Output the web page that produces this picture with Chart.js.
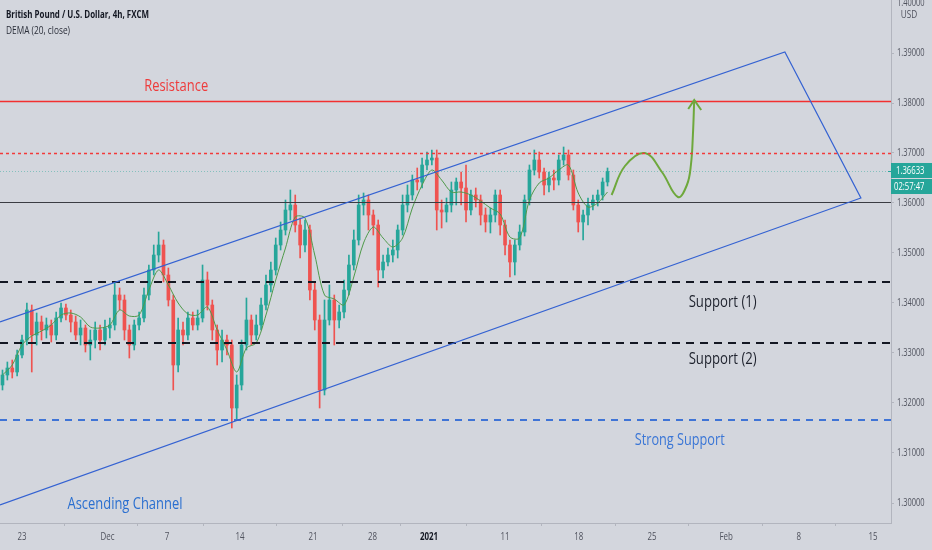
<!DOCTYPE html>
<html>
<head>
<meta charset="utf-8">
<script src="https://cdn.jsdelivr.net/npm/chart.js@4.4.1/dist/chart.umd.min.js"></script>
<style>
  html, body { margin: 0; padding: 0; background: #d3d6dd; }
  canvas { display: block; }
</style>
</head>
<body>
<canvas id="chart" width="932" height="550"></canvas>
<script>
/* GBPUSD candles, one bar = 8h, x = bar index (0 = Mon 23 Nov) */
const firstIdx = -4;
const opens = [1.3236,1.3256,1.3270,1.3262,
  1.3296,1.3326,1.3386,1.3336,1.3362,1.3346,1.3356,1.3336,1.3370,1.3390,
  1.3376,1.3362,1.3336,1.3350,1.3316,1.3326,1.3346,1.3326,1.3350,1.3356,
  1.3416,1.3406,1.3346,1.3316,1.3356,1.3370,1.3416,1.3466,1.3496,1.3516,
  1.3456,1.3406,1.3276,1.3346,1.3336,1.3370,1.3356,1.3370,1.3446,1.3396,
  1.3346,1.3306,1.3326,1.3316,1.3190,1.3236,1.3316,1.3366,1.3336,1.3356,
  1.3396,1.3436,1.3466,1.3516,1.3546,1.3586,1.3596,1.3556,1.3516,1.3546,
  1.3426,1.3366,1.3226,1.3366,1.3406,1.3366,1.3382,1.3426,1.3476,1.3526,
  1.3596,1.3606,1.3576,1.3556,1.3466,1.3482,1.3496,1.3506,1.3546,1.3596,
  1.3616,1.3646,1.3642,1.3676,1.3686,1.3690,1.3586,1.3582,1.3596,1.3626,
  1.3642,1.3630,1.3586,1.3616,1.3606,1.3576,1.3562,1.3576,1.3616,1.3556,
  1.3516,1.3482,1.3516,1.3542,1.3606,1.3666,1.3686,1.3662,1.3636,1.3650,
  1.3646,1.3686,1.3696,1.3656,1.3596,1.3562,1.3576,1.3596,1.3606,1.3616,
  1.3642];
const highs = [1.3266,1.3282,1.3286,1.3306,
  1.3336,1.3400,1.3396,1.3380,1.3374,1.3370,1.3366,1.3382,1.3400,1.3398,
  1.3386,1.3374,1.3366,1.3356,1.3346,1.3362,1.3356,1.3366,1.3370,1.3440,
  1.3430,1.3416,1.3356,1.3366,1.3382,1.3430,1.3476,1.3516,1.3542,1.3526,
  1.3470,1.3416,1.3370,1.3362,1.3382,1.3382,1.3386,1.3476,1.3462,1.3406,
  1.3356,1.3346,1.3336,1.3326,1.3256,1.3326,1.3410,1.3376,1.3376,1.3410,
  1.3456,1.3482,1.3530,1.3562,1.3606,1.3626,1.3616,1.3570,1.3566,1.3556,
  1.3440,1.3376,1.3406,1.3436,1.3416,1.3396,1.3446,1.3496,1.3546,1.3616,
  1.3620,1.3616,1.3586,1.3566,1.3496,1.3510,1.3526,1.3556,1.3616,1.3636,
  1.3656,1.3670,1.3690,1.3702,1.3706,1.3706,1.3606,1.3610,1.3642,1.3650,
  1.3662,1.3676,1.3626,1.3630,1.3616,1.3590,1.3590,1.3626,1.3626,1.3566,
  1.3526,1.3526,1.3556,1.3616,1.3676,1.3706,1.3702,1.3670,1.3662,1.3666,
  1.3696,1.3712,1.3706,1.3666,1.3606,1.3586,1.3610,1.3616,1.3626,1.3650,
  1.3670];
const lows = [1.3226,1.3246,1.3250,1.3254,
  1.3290,1.3316,1.3262,1.3316,1.3326,1.3330,1.3322,1.3326,1.3362,1.3366,
  1.3342,1.3326,1.3316,1.3302,1.3286,1.3310,1.3306,1.3316,1.3330,1.3346,
  1.3386,1.3326,1.3290,1.3306,1.3346,1.3362,1.3406,1.3456,1.3482,1.3442,
  1.3394,1.3226,1.3262,1.3316,1.3326,1.3346,1.3346,1.3362,1.3386,1.3326,
  1.3276,1.3282,1.3296,1.3150,1.3166,1.3226,1.3306,1.3316,1.3326,1.3346,
  1.3386,1.3422,1.3456,1.3506,1.3536,1.3566,1.3542,1.3490,1.3502,1.3406,
  1.3346,1.3190,1.3216,1.3356,1.3316,1.3350,1.3370,1.3416,1.3466,1.3516,
  1.3576,1.3546,1.3536,1.3432,1.3450,1.3474,1.3482,1.3490,1.3536,1.3582,
  1.3606,1.3626,1.3630,1.3666,1.3676,1.3546,1.3550,1.3562,1.3582,1.3596,
  1.3596,1.3562,1.3576,1.3592,1.3556,1.3542,1.3540,1.3562,1.3536,1.3496,
  1.3452,1.3456,1.3506,1.3534,1.3596,1.3656,1.3650,1.3616,1.3622,1.3626,
  1.3636,1.3676,1.3646,1.3586,1.3542,1.3526,1.3556,1.3586,1.3594,1.3606,
  1.3634];
const closes = [1.3256,1.3270,1.3262,1.3296,
  1.3326,1.3386,1.3336,1.3362,1.3346,1.3356,1.3336,1.3370,1.3390,1.3376,
  1.3362,1.3336,1.3350,1.3316,1.3326,1.3346,1.3326,1.3350,1.3356,1.3416,
  1.3406,1.3346,1.3316,1.3356,1.3370,1.3416,1.3466,1.3496,1.3516,1.3456,
  1.3406,1.3276,1.3346,1.3336,1.3370,1.3356,1.3370,1.3446,1.3396,1.3346,
  1.3306,1.3326,1.3316,1.3190,1.3236,1.3316,1.3366,1.3336,1.3356,1.3396,
  1.3436,1.3466,1.3516,1.3546,1.3586,1.3596,1.3556,1.3516,1.3546,1.3426,
  1.3366,1.3226,1.3366,1.3406,1.3366,1.3382,1.3426,1.3476,1.3526,1.3596,
  1.3606,1.3576,1.3556,1.3466,1.3482,1.3496,1.3506,1.3546,1.3596,1.3616,
  1.3646,1.3642,1.3676,1.3686,1.3690,1.3586,1.3582,1.3596,1.3626,1.3642,
  1.3630,1.3586,1.3616,1.3606,1.3576,1.3562,1.3576,1.3616,1.3556,1.3516,
  1.3482,1.3516,1.3542,1.3606,1.3666,1.3686,1.3662,1.3636,1.3650,1.3646,
  1.3686,1.3696,1.3656,1.3596,1.3562,1.3576,1.3596,1.3606,1.3616,1.3642,
  1.3663];

// DEMA (20, close), read every second bar starting at firstIdx
const dema = [1.3256,1.3276,1.3316,1.3334,1.3344,1.3356,1.3376,1.3380,1.3372,1.3352,
  1.3350,1.3356,1.3386,1.3374,1.3376,1.3426,1.3466,1.3436,1.3400,1.3378,
  1.3376,1.3392,1.3346,1.3306,1.3262,1.3310,1.3320,1.3376,1.3446,1.3510,
  1.3572,1.3570,1.3496,1.3416,1.3408,1.3396,1.3452,1.3520,1.3552,1.3530,
  1.3512,1.3530,1.3590,1.3636,1.3666,1.3646,1.3622,1.3622,1.3616,1.3604,
  1.3590,1.3578,1.3532,1.3530,1.3606,1.3640,1.3650,1.3666,1.3676,1.3620,
  1.3592,1.3600,1.3622];

// projected path (green arrow)
const projX = [120.84,123.57,127.66,131.15,134.43,136.27,137.09,137.5,137.77];
const projY = [1.3616,1.3674,1.3700,1.3662,1.3612,1.3636,1.3676,1.3736,1.3806];

// ascending channel vertices
const channelX = [-4.51, 156.35, 171.93, -4.51];
const channelY = [1.3362, 1.3902, 1.3610, 1.2996];

// levels
const resistance = 1.3803;
const dottedLevel = 1.37;
const pivotLevel = 1.3602;
const support1 = 1.3441;
const support2 = 1.3321;
const strongSupport = 1.3166;
const lastPrice = 1.36633;

// axes
const xMin = -4.51, xMax = 178.1;
const yMin = 1.296, yMax = 1.4006;
const yTicks = [1.30,1.31,1.32,1.33,1.34,1.35,1.36,1.37,1.38,1.39];
const tickIdx = [0, 17.52, 29.71, 44.67, 59.63, 71.82, 83.4, 98.98, 114.1, 129.1, 144.3, 159.2, 174.4];
const tickLabels = ['23','Dec','7','14','21','28','2021','11','18','25','Feb','8','15'];

const UP = '#26a69a', DOWN = '#ef5350';
const FONT = "'Open Sans', 'Noto Sans', sans-serif";
const bars = opens.map((_, k) => k + firstIdx);
const candleColor = c => closes[c.dataIndex] >= opens[c.dataIndex] ? UP : DOWN;

// squeezed text: the reference uses a narrow face
function squeeze(ctx, txt, x, y, sx, align) {
  ctx.save();
  ctx.translate(x, y);
  ctx.scale(sx, 1);
  ctx.textAlign = align || 'left';
  ctx.fillText(txt, 0, 0);
  ctx.restore();
}
function fitText(ctx, txt, x, y, w, align) {
  const m = ctx.measureText(txt).width;
  squeeze(ctx, txt, x, y, Math.min(1, w / m), align);
}

const overlay = {
  id: 'overlay',
  beforeDraw(chart) {
    const ctx = chart.ctx;
    ctx.save();
    ctx.fillStyle = '#d3d6dd';
    ctx.fillRect(0, 0, chart.width, chart.height);
    ctx.restore();
  },
  beforeDatasetsDraw(chart) {
    const {ctx, chartArea: a, scales: {y}} = chart;
    ctx.save();
    ctx.strokeStyle = 'rgba(38,166,154,0.45)';
    ctx.lineWidth = 1;
    ctx.setLineDash([1, 2]);
    const py = Math.round(y.getPixelForValue(lastPrice)) + 0.5;
    ctx.beginPath(); ctx.moveTo(a.left, py); ctx.lineTo(a.right, py); ctx.stroke();
    ctx.restore();
  },
  afterDatasetsDraw(chart) {
    const {ctx, chartArea: a, scales: {x, y}} = chart;
    const hline = (p, color, w, dash) => {
      const py = Math.round(y.getPixelForValue(p)) + (w % 2 ? 0.5 : 0);
      ctx.strokeStyle = color; ctx.lineWidth = w; ctx.setLineDash(dash);
      ctx.beginPath(); ctx.moveTo(a.left, py); ctx.lineTo(a.right, py); ctx.stroke();
    };
    ctx.save();
    ctx.beginPath(); ctx.rect(a.left, a.top, a.right - a.left, a.bottom - a.top); ctx.clip();

    hline(resistance, '#f23030', 1.6, []);
    hline(dottedLevel, '#f23a3a', 1.5, [3, 3]);
    hline(pivotLevel, '#3a3c42', 1, []);
    hline(support1, '#131722', 2, [8, 6]);
    hline(support2, '#131722', 2, [8, 6]);
    hline(strongSupport, '#3f74d6', 2, [7, 6]);

    // channel
    ctx.setLineDash([]);
    ctx.strokeStyle = '#3462d2';
    ctx.lineWidth = 1.2;
    ctx.beginPath();
    channelX.forEach((v, k) => {
      const px = x.getPixelForValue(v), py = y.getPixelForValue(channelY[k]);
      k ? ctx.lineTo(px, py) : ctx.moveTo(px, py);
    });
    ctx.stroke();

    // arrow head
    const n = projX.length - 1;
    const tx = x.getPixelForValue(projX[n]), ty = y.getPixelForValue(projY[n]);
    ctx.strokeStyle = '#6ea83c';
    ctx.lineWidth = 2;
    ctx.beginPath();
    ctx.moveTo(tx - 6, ty + 9); ctx.lineTo(tx, ty); ctx.lineTo(tx + 7, ty + 10);
    ctx.stroke();

    // drawing labels
    const label = (txt, i, p, color, w) => {
      ctx.fillStyle = color;
      ctx.font = '17px ' + FONT;
      ctx.textBaseline = 'middle';
      fitText(ctx, txt, x.getPixelForValue(i), y.getPixelForValue(p), w, 'center');
    };
    label('Resistance', 31.6, 1.3834, '#ee3b3b', 64);
    label('Support (1)', 143.6, 1.3402, '#1e222d', 68);
    label('Support (2)', 143.6, 1.3288, '#1e222d', 68);
    label('Strong Support', 134.8, 1.3126, '#3a76d6', 90);
    label('Ascending Channel', 21.1, 1.2998, '#2a6fd0', 115);
    ctx.restore();
  },
  afterDraw(chart) {
    const {ctx, chartArea: a, scales: {x, y}} = chart;
    ctx.save();
    ctx.textBaseline = 'middle';

    // title
    ctx.fillStyle = '#131722';
    ctx.font = 'bold 11px ' + FONT;
    fitText(ctx, 'British Pound / U.S. Dollar, 4h, FXCM', 6, 15, 143, 'left');
    ctx.fillStyle = '#2a2e39';
    ctx.font = '11px ' + FONT;
    fitText(ctx, 'DEMA (20, close)', 6, 31, 64, 'left');

    // price scale labels
    ctx.fillStyle = '#50535e';
    ctx.font = '11px ' + FONT;
    yTicks.forEach(v => squeeze(ctx, v.toFixed(5), a.right + 6, y.getPixelForValue(v), 0.68, 'left'));
    squeeze(ctx, '1.40000', a.right + 6, y.getPixelForValue(1.40), 0.68, 'left');
    squeeze(ctx, 'USD', a.right + 18, 15, 0.75, 'center');

    // time scale labels
    tickIdx.forEach((v, k) => {
      ctx.font = (k === 6 ? 'bold ' : '') + '11px ' + FONT;
      ctx.fillStyle = k === 6 ? '#131722' : '#50535e';
      squeeze(ctx, tickLabels[k], x.getPixelForValue(v), a.bottom + 14, 0.72, 'center');
    });

    // last price + countdown
    const py = Math.round(y.getPixelForValue(lastPrice));
    ctx.fillStyle = UP;
    ctx.fillRect(a.right, py - 8, 41, 15);
    ctx.fillRect(a.right, py + 8, 41, 15);
    ctx.fillRect(a.right - 3, py, 3, 1);
    ctx.fillStyle = '#ffffff';
    ctx.font = '11px ' + FONT;
    squeeze(ctx, lastPrice.toFixed(5), a.right + 5, py, 0.7, 'left');
    squeeze(ctx, '02:57:47', a.right + 3, py + 16, 0.7, 'left');
    ctx.restore();
  }
};

new Chart(document.getElementById('chart'), {
  type: 'bar',
  data: {
    datasets: [
      {
        label: 'body',
        data: bars.map((b, k) => ({x: b, y: [opens[k], closes[k]]})),
        backgroundColor: candleColor,
        barThickness: 3,
        minBarLength: 1,
        grouped: false,
        order: 2
      },
      {
        label: 'wick',
        data: bars.map((b, k) => ({x: b, y: [lows[k], highs[k]]})),
        backgroundColor: candleColor,
        barThickness: 1,
        grouped: false,
        order: 3
      },
      {
        type: 'line',
        label: 'DEMA',
        data: dema.map((v, k) => ({x: firstIdx + 2 * k, y: v})),
        borderColor: '#4f9a4a',
        borderWidth: 1,
        pointRadius: 0,
        tension: 0.3,
        order: 1
      },
      {
        type: 'line',
        label: 'projection',
        data: projX.map((v, k) => ({x: v, y: projY[k]})),
        borderColor: '#6ea83c',
        borderWidth: 2,
        pointRadius: 0,
        tension: 0.4,
        order: 0
      }
    ]
  },
  options: {
    responsive: false,
    animation: false,
    layout: { padding: 0 },
    plugins: { legend: { display: false }, tooltip: { enabled: false } },
    scales: {
      x: {
        type: 'linear',
        min: xMin, max: xMax,
        offset: false,
        afterBuildTicks: s => { s.ticks = tickIdx.map(v => ({value: v})); },
        afterFit: s => { s.height = 27; },
        ticks: { display: false },
        grid: { drawOnChartArea: false, tickLength: 3, color: '#b2b5be' },
        border: { color: '#b2b5be' }
      },
      y: {
        type: 'linear',
        position: 'right',
        min: yMin, max: yMax,
        afterBuildTicks: s => { s.ticks = yTicks.map(v => ({value: v})); },
        afterFit: s => { s.width = 41; },
        ticks: { display: false },
        grid: { drawOnChartArea: false, tickLength: 3, color: '#b2b5be' },
        border: { color: '#b2b5be' }
      }
    }
  },
  plugins: [overlay]
});
</script>
</body>
</html>
